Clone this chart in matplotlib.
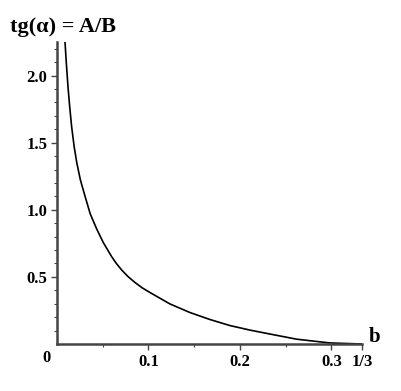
# -*- coding: utf-8 -*-

import matplotlib.pyplot as plt
from matplotlib.ticker import FixedLocator

# values
b_vals = [0.00873, 0.00993, 0.0120, 0.01385, 0.0160, 0.01876, 0.0216, 0.0255,
          0.0308, 0.0363, 0.0433, 0.0505, 0.0597, 0.0650, 0.0706, 0.0775,
          0.0851, 0.0930, 0.1015, 0.1233, 0.1451, 0.1669, 0.1887, 0.2106,
          0.2269, 0.2618, 0.2978, 1 / 3]
tg_vals = [2.254, 2.119, 1.918, 1.769, 1.619, 1.470, 1.351, 1.224,
           1.097, 0.970, 0.858, 0.757, 0.651, 0.599, 0.552, 0.503,
           0.459, 0.419, 0.384, 0.299, 0.235, 0.183, 0.138, 0.104,
           0.082, 0.036, 0.008, 0.0]

x_ticks = [0.1, 0.2, 0.3, 1 / 3]
x_labels = ["0.1", "0.2", "0.3", "1/3"]
x_minor = [0.05, 0.15, 0.25]
y_ticks = [0.5, 1.0, 1.5, 2.0]
y_labels = ["0.5", "1.0", "1.5", "2.0"]
y_minor = [0.1, 0.2, 0.3, 0.4, 0.6, 0.7, 0.8, 0.9, 1.1, 1.2, 1.3, 1.4,
           1.6, 1.7, 1.8, 1.9, 2.1, 2.2]

plt.rcParams['font.family'] = ['Liberation Serif', 'DejaVu Serif']
plt.rcParams['font.weight'] = 'bold'

fig = plt.figure(figsize=(4.02, 3.91), dpi=100)
ax = fig.add_axes([57 / 402, 47 / 391, 305 / 402, 302 / 391])

ax.plot(b_vals, tg_vals, color='black', lw=1.2, solid_joinstyle='round')

ax.set_xlim(0, 1 / 3)
ax.set_ylim(0, 2.25)

for s in ['top', 'right']:
    ax.spines[s].set_visible(False)
for s in ['left', 'bottom']:
    ax.spines[s].set_color('#444444')
    ax.spines[s].set_linewidth(1.8)

ax.set_xticks(x_ticks)
ax.set_xticklabels(x_labels, fontsize=12, fontweight='bold')
ax.xaxis.set_minor_locator(FixedLocator(x_minor))
ax.set_yticks(y_ticks)
ax.set_yticklabels(y_labels, fontsize=12, fontweight='bold')
ax.yaxis.set_minor_locator(FixedLocator(y_minor))
ax.tick_params(which='major', direction='out', length=4, width=1, color='#444444', pad=3)
ax.tick_params(which='minor', direction='out', length=2.5, width=0.8, color='#444444')

fig.text(47 / 402, 1 - 358 / 391, "0", ha='center', va='center',
         fontsize=12, fontweight='bold')
fig.text(375 / 402, 1 - 337 / 391, "b", ha='center', va='center',
         fontsize=15, fontweight='bold')
fig.text(10 / 402, 1 - 27 / 391, "tg(α) = A/B", ha='left', va='center',
         fontsize=16, fontweight='bold')

plt.savefig("out.png", dpi=100)
